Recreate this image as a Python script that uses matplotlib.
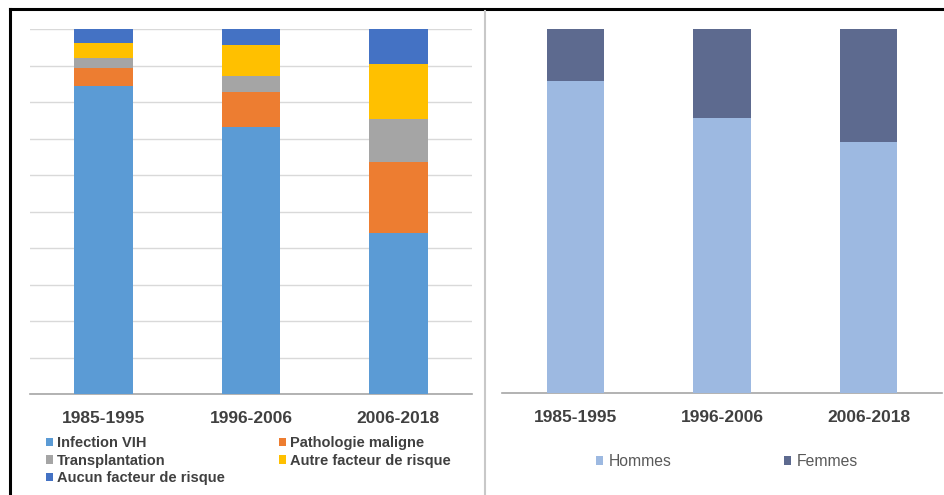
import matplotlib
matplotlib.use("Agg")
import matplotlib.pyplot as plt
from matplotlib.patches import Patch
from matplotlib.lines import Line2D
import numpy as np

plt.rcParams['font.family'] = ['Liberation Sans', 'DejaVu Sans']

periods = ["1985-1995", "1996-2006", "2006-2018"]

# Left chart: risk factors (% of cases)
infection_vih = [84.4, 73.2, 44.1]
pathologie_maligne = [4.9, 9.6, 19.5]
transplantation = [2.8, 4.4, 11.7]
autre_facteur = [4.1, 8.4, 15.1]
aucun_facteur = [3.8, 4.4, 9.6]

# Right chart: sex (% of cases)
hommes = [85.7, 75.5, 69.0]
femmes = [14.3, 24.5, 31.0]

left_series = [
    ("Infection VIH", infection_vih, "#5B9BD5"),
    ("Pathologie maligne", pathologie_maligne, "#ED7D31"),
    ("Transplantation", transplantation, "#A5A5A5"),
    ("Autre facteur de risque", autre_facteur, "#FFC000"),
    ("Aucun facteur de risque", aucun_facteur, "#4472C4"),
]
right_series = [
    ("Hommes", hommes, "#9DB9E1"),
    ("Femmes", femmes, "#5D6A8F"),
]

W, H = 944, 495
fig = plt.figure(figsize=(W / 100, H / 100), dpi=100)
fig.patch.set_facecolor("white")

def fx(px):
    return px / W

def fy(py):
    return 1 - py / H

x = np.arange(len(periods))
tick_color = "#404040"

# ---- left axes ----
axL = fig.add_axes([fx(30), fy(394), fx(472) - fx(30), fy(29) - fy(394)])
bottom = np.zeros(len(periods))
handlesL = {}
for name, vals, col in left_series:
    axL.bar(x, vals, 0.4, bottom=bottom, color=col, zorder=3)
    bottom += np.array(vals)
    handlesL[name] = Patch(facecolor=col, edgecolor="none", label=name)
axL.set_xlim(-0.5, 2.5)
axL.set_ylim(0, 100)
axL.set_yticks(np.arange(0, 101, 10))
axL.yaxis.grid(True, color="#D9D9D9", lw=1.0, zorder=0)
axL.tick_params(axis="y", left=False, labelleft=False)
for s in ["top", "right", "left"]:
    axL.spines[s].set_visible(False)
axL.spines["bottom"].set_color("#A6A6A6")
axL.spines["bottom"].set_linewidth(1.2)
axL.set_xticks(x)
axL.set_xticklabels(periods, fontsize=12.5, fontweight="bold", color=tick_color)
axL.tick_params(axis="x", length=0, pad=12)

# ---- right axes ----
axR = fig.add_axes([fx(502), fy(393), fx(942) - fx(502), fy(29) - fy(393)])
bottom = np.zeros(len(periods))
handlesR = []
for name, vals, col in right_series:
    axR.bar(x, vals, 0.39, bottom=bottom, color=col, zorder=3)
    bottom += np.array(vals)
    handlesR.append(Patch(facecolor=col, edgecolor="none", label=name))
axR.set_xlim(-0.5, 2.5)
axR.set_ylim(0, 100)
axR.tick_params(axis="y", left=False, labelleft=False)
for s in ["top", "right", "left"]:
    axR.spines[s].set_visible(False)
axR.spines["bottom"].set_color("#A6A6A6")
axR.spines["bottom"].set_linewidth(1.2)
axR.set_xticks(x)
axR.set_xticklabels(periods, fontsize=12.5, fontweight="bold", color=tick_color)
axR.tick_params(axis="x", length=0, pad=12)

# ---- legends ----
orderL = ["Infection VIH", "Transplantation", "Aucun facteur de risque",
          "Pathologie maligne", "Autre facteur de risque"]
legL = fig.legend(handles=[handlesL[n] for n in orderL], loc="upper left",
                  bbox_to_anchor=(fx(46), fy(436)), ncol=2, frameon=False,
                  handlelength=0.5, handleheight=0.5,
                  handletextpad=0.25, labelspacing=0.25, columnspacing=3.7,
                  borderpad=0, borderaxespad=0,
                  prop={"weight": "bold", "size": 10.5})
for t in legL.get_texts():
    t.set_color("#404040")

legR = fig.legend(handles=handlesR, loc="upper left",
                  bbox_to_anchor=(fx(596), fy(454)), ncol=2, frameon=False,
                  handlelength=0.45, handleheight=0.45,
                  handletextpad=0.35, columnspacing=7.2,
                  borderpad=0, borderaxespad=0, prop={"size": 11.3})
for t in legR.get_texts():
    t.set_color("#595959")

# ---- frame lines ----
fig.add_artist(Line2D([fx(10), 1.0], [fy(9), fy(9)], color="black", lw=2.2))
fig.add_artist(Line2D([fx(10), fx(10)], [fy(9), 0.0], color="black", lw=2.2))
fig.add_artist(Line2D([fx(485), fx(485)], [fy(11), 0.0], color="#C8C8C8", lw=1.5))

fig.savefig("out.png", dpi=100, facecolor="white")
